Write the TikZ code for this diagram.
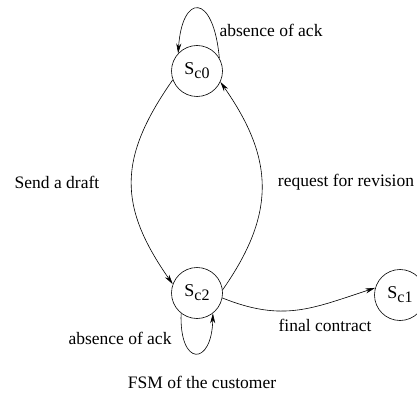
\documentclass[tikz,border=0pt]{standalone}
\usepackage{fontspec}
\setmainfont{Liberation Serif}
\usepackage{tikz}
\usetikzlibrary{arrows,arrows.meta,positioning}
\newcommand{\stname}[1]{S\raisebox{-4pt}{\fontsize{16}{16}\selectfont c#1}}
\tikzset{>={Stealth[length=10pt,width=5pt]},
         state/.style={draw,circle,minimum size=51pt,inner sep=0pt,
                       font=\fontsize{18}{20}\selectfont},
         lbl/.style={font=\fontsize{17.5}{20}\selectfont,inner sep=0pt}}

\begin{document}
\begin{tikzpicture}[x=1pt,y=-1pt,line width=0.6pt]
	  \useasboundingbox (0,0) rectangle (417,398);
	  \node[state] (c0) at (197,71)  {\stname{0}};
	  \node[state] (c2) at (197,293) {\stname{2}};
	  \node[state] (c1) at (400,295) {\stname{1}};
	  % loops
	  \draw[->] (c0.30) .. controls +(-6,-66) and +(4,-60) .. (c0.137);
	  \draw[->] (c2.232) .. controls +(-2,54) and +(-1,53) .. (c2.308);
	  % transitions
	  \draw[->] (c0.200) to[out=235,in=125,looseness=1.2] (c2.160);
	  \draw[->] (c2.7) to[out=55,in=305,looseness=1.15] (c0.-25);
	  \draw[->] (c2.-11) to[out=-22,in=198,looseness=1.1] (c1.164);
	  % labels
	  \node[lbl] (ack0) at (271,30)  {absence of ack};
	  \node[lbl] (ack2) at (120,338) {absence of ack};
	  \node[lbl] (send) at (57,182)  {Send a draft};
	  \node[lbl] (rev)  at (346,182) {request for revision};
	  \node[lbl] (fin)  at (325,325) {final contract};
	  \node[lbl] (cap)  at (202,382) {FSM of the customer};
\end{tikzpicture}
\end{document}
